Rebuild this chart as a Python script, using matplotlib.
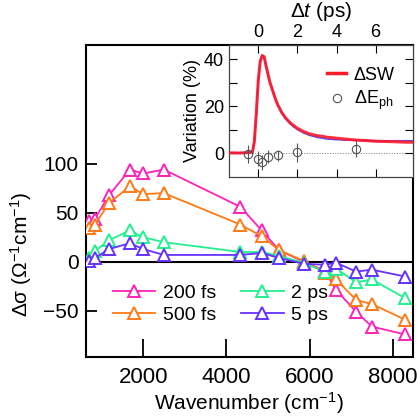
import matplotlib.pyplot as plt
from matplotlib.lines import Line2D

plt.rcParams['font.family'] = ['Liberation Sans', 'DejaVu Sans']
plt.rcParams['mathtext.fontset'] = 'custom'
plt.rcParams['mathtext.rm'] = 'Liberation Sans'
plt.rcParams['mathtext.it'] = 'Liberation Sans:italic'

# main panel: wavenumber (cm-1) vs delta sigma
wavenumber = [704, 840, 1184, 1680, 2000, 2496, 4336, 4848, 5264, 5856, 6360, 6640, 7120, 7496, 8296]
ds_200fs = [42, 44, 68, 94, 90, 94, 56, 32, 12, 0, -9, -29, -51, -66, -74]
ds_500fs = [34, 38, 60, 77, 69, 70, 38, 26, 12, 1, -11, -18, -39, -43, -59]
ds_2ps = [4, 11, 22, 32, 25, 20, 10, 10, 6, -1, -10, -7, -21, -18, -37]
ds_5ps = [1, 4, 13, 19, 13, 7, 7, 9, 4, -2, -3, -1, -10, -8, -15]

series_labels = ['200 fs', '500 fs', '2 ps', '5 ps']
series_colors = ['#ff22b8', '#ff7a14', '#22f08e', '#6630ff']

# inset: spectral weight change vs delay
t_sw = [-1.5, -1.0, -0.5, -0.3, -0.2, -0.1, 0.0, 0.1, 0.2, 0.3, 0.4, 0.5, 0.6, 0.7, 0.8,
        0.9, 1.0, 1.2, 1.4, 1.6, 1.8, 2.0, 2.3, 2.6, 3.0, 3.3, 3.5, 3.8, 4.0, 4.5,
        5.0, 5.5, 6.0, 6.5, 7.0, 7.5, 7.9]
sw = [0.2, 0.1, 0.3, 0.5, 5, 17, 31, 39, 41.5, 41, 37, 33.5, 30, 27.5, 25,
      22.5, 20.5, 17.3, 15, 13.2, 11.8, 10.6, 9.3, 8.3, 7.5, 7.2, 6.8, 6.6, 6.4, 6.0,
      5.6, 5.4, 5.1, 5.0, 4.9, 4.7, 4.7]
sw_fit = [0.2, 0.1, 0.3, 0.5, 5, 17, 31, 39, 41.5, 41, 37, 33.5, 30, 27.5, 25,
          22.5, 20.5, 17.2, 14.7, 12.8, 11.3, 10.1, 8.7, 7.7, 6.8, 6.4, 6.1, 5.9, 5.8, 5.6,
          5.5, 5.4, 5.3, 5.3, 5.3, 5.3, 5.3]

t_ph = [-0.5, -0.02, 0.19, 0.5, 1.0, 2.0, 5.0]
e_ph = [-0.4, -2.4, -3.8, -1.4, -0.9, 0.4, 1.8]
e_ph_err = [3.9, 3.2, 3.2, 2.8, 2.3, 3.9, 3.4]

fig = plt.figure(figsize=(4.17, 4.20), dpi=100)
ax = fig.add_axes([0.206, 0.15, 0.784, 0.743])

ax.axhline(0, color='black', lw=1.5, zorder=1)
for vals, lab, col in zip([ds_200fs, ds_500fs, ds_2ps, ds_5ps], series_labels, series_colors):
    ax.plot(wavenumber, vals, color=col, lw=1.3, marker='^', ms=8, mfc='white',
            mec=col, mew=1.4, label=lab, zorder=3)

ax.set_xlim(624, 8480)
ax.set_ylim(-97, 221)
ax.set_xticks([2000, 4000, 6000, 8000])
ax.set_yticks([-50, 0, 50, 100])
ax.tick_params(axis='x', direction='in', length=13, width=1.3, labelsize=16, pad=7)
ax.tick_params(axis='y', direction='in', length=8, width=1.3, labelsize=15, pad=5)
for s in ax.spines.values():
    s.set_linewidth(1.5)
ax.set_xlabel('Wavenumber (cm$^{-1}$)', fontsize=15, labelpad=2)
ax.set_ylabel('Δσ (Ω$^{-1}$cm$^{-1}$)', fontsize=15, labelpad=2)
ax.yaxis.set_label_coords(-0.16, 0.33)

ax.legend(ncol=2, loc='lower left', bbox_to_anchor=(0.058, 0.08), frameon=False,
          fontsize=14, handlelength=2.2, handletextpad=0.4, columnspacing=1.25,
          labelspacing=0.25, borderaxespad=0)

# inset
ins = fig.add_axes([0.549, 0.579, 0.441, 0.314])
ins.axhline(0, color='gray', lw=0.7, ls=':', zorder=1)
ins.plot(t_sw, sw_fit, color='#4a4aff', lw=1.2, zorder=2)
ins.plot(t_sw, sw, color='#ff1a2a', lw=2.2, alpha=0.9, zorder=3)
ins.errorbar(t_ph, e_ph, yerr=e_ph_err, fmt='o', ms=6, mfc='none', mec='#555555',
             ecolor='#555555', elinewidth=0.8, mew=0.8, zorder=4)
ins.set_xlim(-1.5, 7.9)
ins.set_ylim(-10, 46)
ins.set_xticks([0, 2, 4, 6])
ins.set_yticks([0, 20, 40])
ins.set_yticks([10, 30], minor=True)
ins.xaxis.tick_top()
ins.xaxis.set_label_position('top')
ins.tick_params(axis='both', which='both', direction='in', top=True, bottom=True,
                left=True, right=True, labelsize=13, length=6, width=0.8)
ins.tick_params(axis='x', pad=3)
for s in ins.spines.values():
    s.set_linewidth(0.9)
    s.set_color('#444444')
ins.set_xlabel('Δ$\\it{t}$ (ps)', fontsize=15, labelpad=5)
ins.set_ylabel('Variation (%)', fontsize=13, labelpad=2)

handles = [Line2D([], [], color='#ff1a2a', lw=2.5),
           Line2D([], [], ls='none', marker='o', ms=6, mfc='none', mec='#555555', mew=0.8)]
ins.legend(handles, ['ΔSW', 'ΔE$_{\\rm ph}$'], loc='upper right', bbox_to_anchor=(0.97, 0.93),
           frameon=False, fontsize=13, handlelength=1.1, handletextpad=0.4,
           labelspacing=0.3, borderaxespad=0.3)

fig.savefig('out.png', dpi=100)
